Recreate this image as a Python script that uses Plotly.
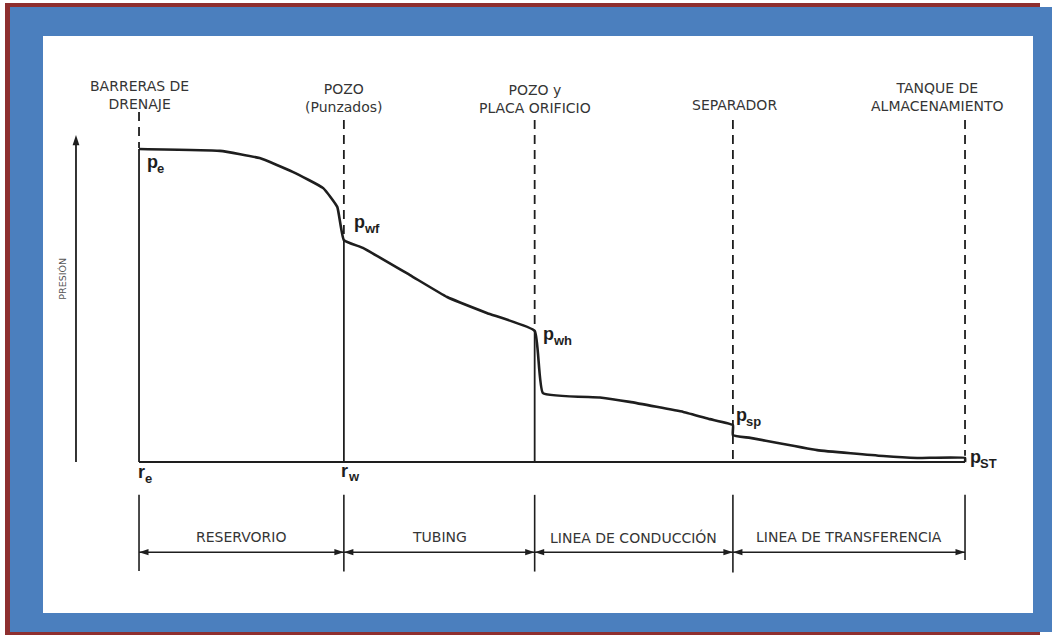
import plotly.graph_objects as go

# ---------------- data (diagram units: distance 0-100, pressure 0-100) -------------
node_names = ["re", "rw", "wh", "sep", "st"]
node_x = [0.0, 24.8, 47.9, 71.9, 100.0]
node_top_labels = ["BARRERAS DE<br>DRENAJE", "POZO<br>(Punzados)", "POZO y<br>PLACA ORIFICIO",
                   "SEPARADOR", "TANQUE DE<br>ALMACENAMIENTO"]
top_label_x = [0.0, 24.8, 47.9, 72.1, 96.7]
top_label_y = [117.1, 116.3, 115.9, 114.1, 116.5]

# pressure profile along the system
profile_x = [0.0, 9.8, 14.6, 18.6, 22.3, 24.0, 24.8,
             27.1, 32.8, 37.3, 42.1, 47.9,
             48.9, 55.8, 59.4, 65.9, 69.1, 71.9,
             71.9, 74.0, 82.1, 90.1, 94.2, 100.0, 100.0]
profile_p = [100.0, 99.4, 97.1, 92.7, 87.5, 81.5, 70.9,
             68.4, 59.7, 52.7, 47.6, 41.9,
             22.0, 20.6, 19.2, 16.0, 13.7, 11.8,
             8.6, 7.7, 3.8, 1.9, 1.3, 1.3, 0.0]

# solid verticals (from baseline to curve) and dashed verticals
solid_node_p = [100.0, 70.9, 41.9]           # re, rw, wh
dash_top = [111.8, 109.3, 109.3, 109.3, 109.3]
dash_bottom = [100.3, 71.6, 42.2, 0.0, 2.0]

# point labels: main letter + subscript
pt_main = ["p", "p", "p", "p", "p", "r", "r"]
pt_sub = ["e", "wf", "wh", "sp", "ST", "e", "w"]
pt_x = [0.7, 25.8, 48.7, 72.0, 100.3, -0.4, 24.2]
pt_y = [95.8, 76.6, 40.8, 15.0, 1.5, -3.2, -2.8]

segments = ["RESERVORIO", "TUBING", "LINEA DE CONDUCCIÓN", "LINEA DE TRANSFERENCIA"]
seg_label_y = -24.0
seg_arrow_y = -28.8
tick_top = -10.5
tick_bottom = [-34.8, -35.0, -35.0, -35.3, -31.3]

axis_x = -7.63
axis_top = 104.5
axis_title = "PRESIÓN"

# axis ranges chosen so the diagram fills the 1052x635 page
X_RANGE = [-16.83, 110.53]
Y_RANGE = [-55.27, 147.6]

INK = "#1e1e1e"
TXT = "#353535"
FONT = "DejaVu Sans"

fig = go.Figure()

def add_line(xs, ys, width, dash=None):
    fig.add_trace(go.Scatter(x=xs, y=ys, mode="lines",
                             line=dict(color=INK, width=width, dash=dash),
                             hoverinfo="skip", showlegend=False))

# dashed lines
dx, dy = [], []
for x, t, b in zip(node_x, dash_top, dash_bottom):
    dx += [x, x, None]
    dy += [t, b, None]
add_line(dx, dy, 1.8, "9px,6px")

# solid verticals at re, rw, wh
sx, sy = [], []
for x, p in zip(node_x[:3], solid_node_p):
    sx += [x, x, None]
    sy += [0, p, None]
add_line(sx, sy, 1.8)

# baseline
add_line([node_x[0], node_x[-1]], [0, 0], 2)

# pressure profile
fig.add_trace(go.Scatter(x=profile_x, y=profile_p, mode="lines",
                         line=dict(color=INK, width=2.6, shape="spline", smoothing=0.35),
                         hoverinfo="skip", showlegend=False))

# bottom ticks
tx, ty = [], []
for x, b in zip(node_x, tick_bottom):
    tx += [x, x, None]
    ty += [tick_top, b, None]
add_line(tx, ty, 1.6)

# segment dimension lines with arrowheads at both ends
ax_, ay_ = [], []
hx, hy, ha = [], [], []
for i in range(len(segments)):
    x0, x1 = node_x[i], node_x[i + 1]
    ax_ += [x0, x1, None]
    ay_ += [seg_arrow_y, seg_arrow_y, None]
    hx += [x0, x1]
    hy += [seg_arrow_y, seg_arrow_y]
    ha += [-90, 90]
add_line(ax_, ay_, 1.5)
fig.add_trace(go.Scatter(x=hx, y=hy, mode="markers",
                         marker=dict(symbol="arrow", size=10, angle=ha, color=INK,
                                     line=dict(width=0)),
                         hoverinfo="skip", showlegend=False))

# pressure axis arrow
add_line([axis_x, axis_x], [0, axis_top - 2], 1.8)
fig.add_trace(go.Scatter(x=[axis_x], y=[axis_top], mode="markers",
                         marker=dict(symbol="arrow", size=11, angle=0, color=INK,
                                     line=dict(width=0)),
                         hoverinfo="skip", showlegend=False))

ann = []
for i, name in enumerate(segments):
    x0, x1 = node_x[i], node_x[i + 1]
    ann.append(dict(x=(x0 + x1) / 2, y=seg_label_y, xref="x", yref="y", text=name,
                    showarrow=False, font=dict(family=FONT, size=14, color=TXT)))

for t, x, y in zip(node_top_labels, top_label_x, top_label_y):
    ann.append(dict(x=x, y=y, xref="x", yref="y", text=t, showarrow=False,
                    font=dict(family=FONT, size=14, color=TXT), align="center"))

for m, s, x, y in zip(pt_main, pt_sub, pt_x, pt_y):
    ann.append(dict(x=x, y=y, xref="x", yref="y", text=m, showarrow=False,
                    xanchor="left", yanchor="middle",
                    font=dict(family="Liberation Sans", size=18, color=INK, weight="bold")))
    ann.append(dict(x=x, y=y, xref="x", yref="y", text=s, showarrow=False,
                    xanchor="left", yanchor="middle",
                    xshift=(10 if m == "p" else 7), yshift=-6,
                    font=dict(family="Liberation Sans", size=13, color=INK, weight="bold")))

ann.append(dict(x=axis_x - 1.6, y=58.5, xref="x", yref="y", text=axis_title,
                showarrow=False, textangle=-90,
                font=dict(family=FONT, size=9.5, color="#555555")))

# frame (red edge, blue band, white panel)
W, H = 1052, 635
def rect(x0, y0, x1, y1, color):
    return dict(type="rect", xref="paper", yref="paper", layer="below",
                x0=x0 / W, x1=x1 / W, y0=1 - y1 / H, y1=1 - y0 / H,
                fillcolor=color, line=dict(width=0))

shapes = [
    rect(5, 3, 1040, 640, "#8e2f2f"),
    rect(10, 7, 1060, 632, "#4b7fbe"),
    rect(43, 36, 1033, 613, "#ffffff"),
]

fig.update_layout(
    width=W, height=H, margin=dict(l=0, r=0, t=0, b=0),
    paper_bgcolor="#ffffff", plot_bgcolor="rgba(0,0,0,0)",
    xaxis=dict(range=X_RANGE, visible=False, fixedrange=True),
    yaxis=dict(range=Y_RANGE, visible=False, fixedrange=True),
    annotations=ann, shapes=shapes, showlegend=False,
)

fig.write_html("out.html", config={"displayModeBar": False},
               post_script="document.body.style.margin='0';document.body.style.overflow='hidden';")
